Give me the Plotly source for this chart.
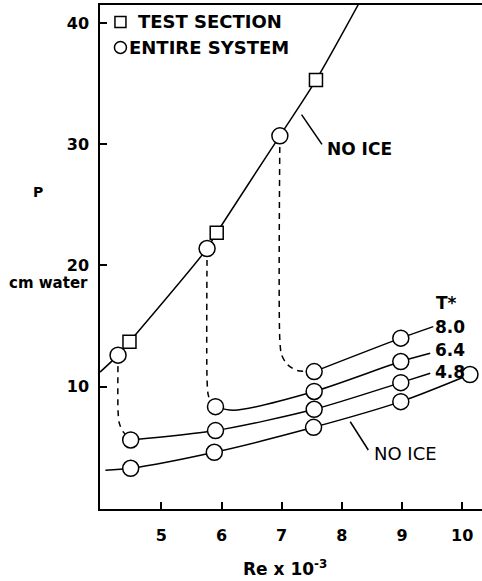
import plotly.graph_objects as go

# ---- data ----
# upper "no ice" curve (test section / entire system)
upper_x = [3.98, 4.28, 4.47, 5.76, 5.92, 6.97, 7.57, 8.28]
upper_y = [11.2, 12.6, 13.7, 21.4, 22.7, 30.7, 35.3, 41.6]
sq_x = [4.47, 5.92, 7.57]
sq_y = [13.7, 22.7, 35.3]
top_circ_x = [4.28, 5.76, 6.97]
top_circ_y = [12.6, 21.4, 30.7]

# lower curves (entire system)
noice_x = [4.07, 4.49, 5.88, 7.53, 8.98, 10.13]
noice_y = [3.1, 3.26, 4.58, 6.64, 8.76, 11.0]
t48_x = [4.49, 5.9, 7.54, 8.98, 9.47]
t48_y = [5.6, 6.37, 8.13, 10.33, 11.1]
t64_x = [5.9, 6.2, 7.54, 8.98, 9.47]
t64_y = [8.35, 8.05, 9.6, 12.07, 12.75]
t80_x = [7.54, 8.98, 9.52]
t80_y = [11.24, 14.0, 14.95]

# circle markers on the lower curves
low_circ_x = [4.49, 5.88, 7.53, 8.98, 10.13, 4.49, 5.9, 7.54, 8.98, 5.9, 7.54, 8.98, 7.54, 8.98]
low_circ_y = [3.26, 4.58, 6.64, 8.76, 11.0, 5.6, 6.37, 8.13, 10.33, 8.35, 9.6, 12.07, 11.24, 14.0]

# dashed transitions (icing)
d1_x = [4.28, 4.28, 4.30, 4.36, 4.49]
d1_y = [12.6, 8.0, 7.0, 6.3, 5.6]
d2_x = [5.76, 5.76, 5.78, 5.83, 5.9]
d2_y = [21.4, 10.5, 9.3, 8.7, 8.35]
d3_x = [6.97, 6.97, 7.0, 7.1, 7.25, 7.54]
d3_y = [30.7, 13.8, 12.6, 11.8, 11.35, 11.24]

x_ticks = [5, 6, 7, 8, 9, 10]
x_ticklabels = ["5", "6", "7", "8", "9", "10"]
y_ticks = [10, 20, 30, 40]
y_ticklabels = ["10", "20", "30", "40"]

t_labels = ["8.0", "6.4", "4.8"]
t_label_y = [14.9, 13.0, 11.2]

FONT = "DejaVu Sans"
BLK = "black"

fig = go.Figure()

def line(x, y, dash="solid", shape="spline"):
    fig.add_trace(go.Scatter(x=x, y=y, mode="lines",
                             line=dict(color=BLK, width=1.5, dash=dash, shape=shape, smoothing=0.8),
                             hoverinfo="skip", showlegend=False))

line(upper_x, upper_y)
line(noice_x, noice_y)
line(t48_x, t48_y)
line(t64_x, t64_y)
line(t80_x, t80_y)
for dx, dy in [(d1_x, d1_y), (d2_x, d2_y), (d3_x, d3_y)]:
    line(dx, dy, dash="6px,5px")

# leader lines
line([7.33, 7.67], [32.45, 30.0], shape="linear")
line([8.14, 8.44], [7.1, 4.77], shape="linear")

# markers
fig.add_trace(go.Scatter(x=sq_x, y=sq_y, mode="markers",
                         marker=dict(symbol="square", size=13, color="white",
                                     line=dict(color=BLK, width=1.5)),
                         showlegend=False, hoverinfo="skip", cliponaxis=False))
fig.add_trace(go.Scatter(x=top_circ_x + low_circ_x, y=top_circ_y + low_circ_y, mode="markers",
                         marker=dict(symbol="circle", size=16, color="white",
                                     line=dict(color=BLK, width=1.5)),
                         showlegend=False, hoverinfo="skip", cliponaxis=False))

# legend symbols
fig.add_trace(go.Scatter(x=[4.32], y=[40.1], mode="markers",
                         marker=dict(symbol="square", size=11, color="white",
                                     line=dict(color=BLK, width=1.5)),
                         showlegend=False, hoverinfo="skip"))
fig.add_trace(go.Scatter(x=[4.32], y=[38.0], mode="markers",
                         marker=dict(symbol="circle", size=12, color="white",
                                     line=dict(color=BLK, width=1.5)),
                         showlegend=False, hoverinfo="skip"))

tf = dict(family=FONT, size=17, color=BLK, weight="bold")
lf = dict(family=FONT, size=18, color=BLK, weight="bold")
ann = []
ann.append(dict(x=4.58, y=40.1, text="TEST SECTION", xanchor="left", yanchor="middle",
                showarrow=False, font=lf))
ann.append(dict(x=4.43, y=38.0, text="ENTIRE SYSTEM", xanchor="left", yanchor="middle",
                showarrow=False, font=lf))
ann.append(dict(x=7.72, y=29.6, text="NO ICE", xanchor="left", yanchor="middle",
                showarrow=False, font=tf))
ann.append(dict(x=8.5, y=4.5, text="NO ICE", xanchor="left", yanchor="middle",
                showarrow=False, font=dict(family=FONT, size=18, color=BLK)))
ann.append(dict(x=9.53, y=16.9, text="T*", xanchor="left", yanchor="middle",
                showarrow=False, font=tf))
for lab, ly in zip(t_labels, t_label_y):
    ann.append(dict(x=9.52, y=ly, text=lab, xanchor="left", yanchor="middle",
                    showarrow=False, font=tf))

# axis titles
ann.append(dict(xref="paper", yref="paper", x=-0.162, y=0.629, text="P",
                xanchor="center", yanchor="middle",
                showarrow=False, font=dict(family=FONT, size=14, color=BLK, weight="bold")))
ann.append(dict(xref="paper", yref="paper", x=-0.134, y=0.448, text="cm water",
                xanchor="center", yanchor="middle",
                showarrow=False, font=dict(family=FONT, size=15, color=BLK, weight="bold")))
ann.append(dict(xref="paper", yref="paper", x=0.484, y=-0.117, text="Re x 10<sup>-3</sup>",
                xanchor="center", yanchor="middle",
                showarrow=False, font=dict(family=FONT, size=17, color=BLK, weight="bold")))

fig.update_layout(
    width=482, height=581,
    margin=dict(l=100, r=0, t=5, b=72),
    paper_bgcolor="white", plot_bgcolor="white",
    annotations=ann,
    xaxis=dict(range=[3.98, 10.33], tickvals=x_ticks, ticktext=x_ticklabels,
               ticks="inside", ticklen=7, tickwidth=1.5, tickcolor=BLK,
               showline=True, linecolor=BLK, linewidth=1.5, mirror=True,
               showgrid=False, zeroline=False, ticklabelstandoff=11,
               tickfont=dict(family=FONT, size=16, color=BLK, weight="bold")),
    yaxis=dict(range=[-0.1, 41.5], tickvals=y_ticks, ticktext=y_ticklabels,
               ticks="inside", ticklen=7, tickwidth=1.5, tickcolor=BLK,
               showline=True, linecolor=BLK, linewidth=1.5,
               showgrid=False, zeroline=False, ticklabelstandoff=6,
               tickfont=dict(family=FONT, size=16, color=BLK, weight="bold")),
)

fig.write_html("out.html", config={"displayModeBar": False},
               post_script="document.body.style.margin='0';document.body.style.overflow='hidden';")
